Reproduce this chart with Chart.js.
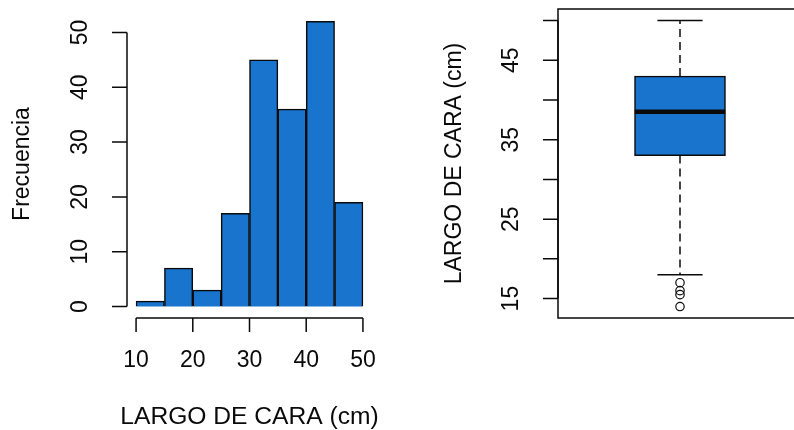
<!DOCTYPE html>
<html>
<head>
<meta charset="utf-8">
<script src="https://cdn.jsdelivr.net/npm/chart.js@4.4.1/dist/chart.umd.min.js"></script>
<style>
    html, body { margin: 0; padding: 0; background: #fff; overflow: hidden; width: 794px; height: 430px; }
    #wrap { position: relative; width: 794px; height: 430px; overflow: hidden; }
    #hist { position: absolute; left: 0; top: 0; }
    #box { position: absolute; left: 440px; top: 0; }
</style>
</head>
<body>
<div id="wrap">
    <canvas id="hist" width="440" height="430"></canvas>
    <canvas id="box" width="390" height="430"></canvas>
</div>
<script>
// Histogram data (bins of 5 cm)
const binEdges = [10, 15, 20, 25, 30, 35, 40, 45, 50];
const binCounts = [1, 7, 3, 17, 45, 36, 52, 19];
const histXTicks = [10, 20, 30, 40, 50];
const histYTicks = [0, 10, 20, 30, 40, 50];

// Boxplot summary
const boxStats = { low: 18, q1: 33, median: 38.5, q3: 43, high: 50 };
const boxOutliers = [17, 16, 15.5, 14];
const boxYTicks = [15, 20, 25, 30, 35, 40, 45, 50];
const boxYLabels = [15, 25, 35, 45];

const FONT = "23px 'Liberation Sans', Arial, sans-serif";
const INK = "#0a0a0a";
const FILL = "#1874CD";

// R style axes drawn with the chart scales
function rAxes(cfg) {
    return {
        id: "rAxes",
        afterDraw(chart) {
            const ctx = chart.ctx;
            const area = chart.chartArea;
            const xs = chart.scales.x, ys = chart.scales.y;
            ctx.save();
            ctx.strokeStyle = INK;
            ctx.fillStyle = INK;
            ctx.lineWidth = 1.5;
            ctx.font = FONT;

            if (cfg.frame) {
                ctx.strokeRect(area.left, area.top, area.right - area.left + 20, area.bottom - area.top);
            }

            if (cfg.xTicks) {
                const y0 = area.bottom;
                const a = xs.getPixelForValue(cfg.xTicks[0]);
                const b = xs.getPixelForValue(cfg.xTicks[cfg.xTicks.length - 1]);
                ctx.beginPath();
                ctx.moveTo(a, y0); ctx.lineTo(b, y0);
                cfg.xTicks.forEach(v => {
                    const p = xs.getPixelForValue(v);
                    ctx.moveTo(p, y0); ctx.lineTo(p, y0 + 14);
                });
                ctx.stroke();
                ctx.textAlign = "center";
                ctx.textBaseline = "middle";
                cfg.xTicks.forEach(v => ctx.fillText(String(v), xs.getPixelForValue(v), y0 + 43));
            }

            // y axis
            const x0 = area.left;
            const ya = ys.getPixelForValue(cfg.yTicks[0]);
            const yb = ys.getPixelForValue(cfg.yTicks[cfg.yTicks.length - 1]);
            ctx.beginPath();
            ctx.moveTo(x0, ya); ctx.lineTo(x0, yb);
            cfg.yTicks.forEach(v => {
                const p = ys.getPixelForValue(v);
                ctx.moveTo(x0, p); ctx.lineTo(x0 - 15, p);
            });
            ctx.stroke();
            (cfg.yLabels || cfg.yTicks).forEach(v => {
                ctx.save();
                ctx.translate(x0 - 46, ys.getPixelForValue(v));
                ctx.rotate(-Math.PI / 2);
                ctx.textAlign = "center";
                ctx.textBaseline = "middle";
                ctx.fillText(String(v), 0, 0);
                ctx.restore();
            });

            // titles
            const midY = (area.top + area.bottom) / 2;
            ctx.save();
            ctx.translate(cfg.yTitleX, midY);
            ctx.rotate(-Math.PI / 2);
            ctx.textAlign = "center";
            ctx.textBaseline = "middle";
            ctx.fillText(cfg.yTitle, 0, 0);
            ctx.restore();
            if (cfg.xTitle) {
                ctx.save();
                ctx.translate((area.left + area.right) / 2, area.bottom + 100);
                ctx.scale(1.07, 1);
                ctx.textAlign = "center";
                ctx.textBaseline = "middle";
                ctx.fillText(cfg.xTitle, 0, 0);
                ctx.restore();
            }
            ctx.restore();
        }
    };
}

// Histogram
const histData = binCounts.map((c, i) => ({ x: (binEdges[i] + binEdges[i + 1]) / 2, y: c }));

new Chart(document.getElementById("hist"), {
    type: "bar",
    data: {
        datasets: [{
            data: histData,
            backgroundColor: FILL,
            borderColor: INK,
            borderWidth: 1.5,
            barPercentage: 1,
            categoryPercentage: 1,
        }],
    },
    options: {
        responsive: false,
        animation: false,
        events: [],
        layout: { padding: { left: 127, right: 68, top: 10, bottom: 112 } },
        plugins: { legend: { display: false }, tooltip: { enabled: false } },
        scales: {
            x: {
                type: "linear", display: false, offset: false, min: 8.4, max: 51.6,
                afterBuildTicks: (s) => { s.ticks = histXTicks.map(v => ({ value: v })); },
            },
            y: { type: "linear", display: false, min: -2.08, max: 54.08 },
        },
    },
    plugins: [rAxes({
        xTicks: histXTicks, yTicks: histYTicks,
        yTitle: "Frecuencia", yTitleX: 23,
        xTitle: "LARGO DE CARA (cm)",
    })],
});

// Boxplot
const seg = (x1, y1, x2, y2) => [{ x: x1, y: y1 }, { x: x2, y: y2 }];
const lineSet = (pts, extra) => Object.assign({
    type: "line", data: pts, borderColor: INK, borderWidth: 1.5,
    pointRadius: 0, fill: false, order: 1,
}, extra || {});

new Chart(document.getElementById("box"), {
    data: {
        datasets: [
            lineSet(seg(1, boxStats.q3, 1, boxStats.high), { borderDash: [8, 5] }),
            lineSet(seg(1, boxStats.q1, 1, boxStats.low), { borderDash: [8, 5] }),
            lineSet(seg(0.9, boxStats.high, 1.1, boxStats.high)),
            lineSet(seg(0.9, boxStats.low, 1.1, boxStats.low)),
            {
                type: "bar",
                data: [{ x: 1, y: [boxStats.q1, boxStats.q3] }],
                backgroundColor: FILL,
                borderColor: INK,
                borderWidth: 1.5,
                borderSkipped: false,
                barThickness: 91,
                order: 5,
            },
            lineSet(seg(0.8, boxStats.median, 1.2, boxStats.median), { borderWidth: 4.5, order: 0 }),
            {
                type: "scatter",
                data: boxOutliers.map(v => ({ x: 1, y: v })),
                pointStyle: "circle",
                pointRadius: 4.2,
                pointBackgroundColor: "rgba(0,0,0,0)",
                pointBorderColor: INK,
                pointBorderWidth: 1.2,
                order: 0,
            },
        ],
    },
    options: {
        responsive: false,
        animation: false,
        events: [],
        layout: { padding: { left: 118, right: 28, top: 9, bottom: 112 } },
        plugins: { legend: { display: false }, tooltip: { enabled: false } },
        scales: {
            x: { type: "linear", display: false, offset: false, min: 0.46, max: 1.54 },
            y: { type: "linear", display: false, min: 12.56, max: 51.44 },
        },
    },
    plugins: [rAxes({
        frame: true, yTicks: boxYTicks, yLabels: boxYLabels,
        yTitle: "LARGO DE CARA (cm)", yTitleX: 15,
    })],
});
</script>
</body>
</html>
